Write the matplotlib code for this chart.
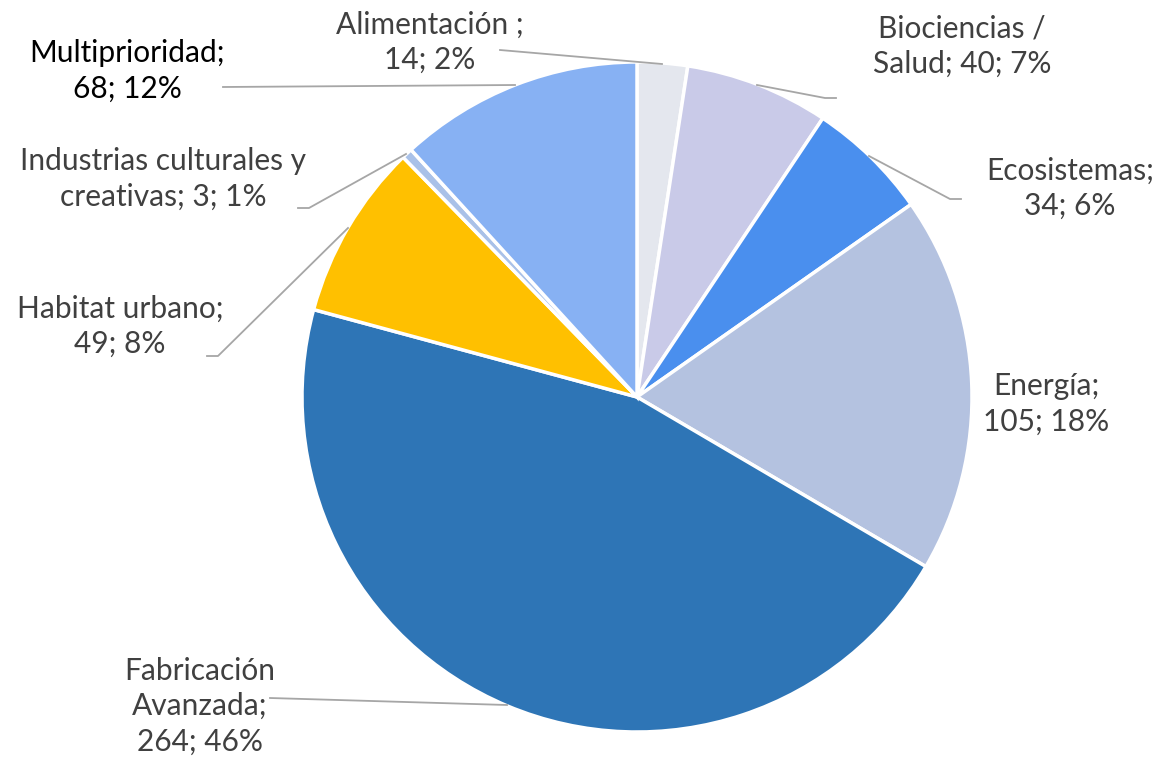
import matplotlib.pyplot as plt

categorias = ["Alimentación ;\n", "Biociencias /\nSalud; ", "Ecosistemas;\n", "Energía;\n",
              "Fabricación\nAvanzada;\n", "Habitat urbano;\n", "Industrias culturales y\ncreativas; ",
              "Multiprioridad;\n"]
valores = [14, 40, 34, 105, 264, 49, 3, 68]
porcentajes = ["2%", "7%", "6%", "18%", "46%", "8%", "1%", "12%"]
colores = ["#E4E7EE", "#C9CAE8", "#4A8FEE", "#B4C2E0", "#2E75B6", "#FFC000", "#A9C1E8", "#87B1F3"]

etiquetas = [f"{c}{v}; {p}" for c, v, p in zip(categorias, valores, porcentajes)]

W, H = 1156, 760
fig = plt.figure(figsize=(W / 100, H / 100), dpi=100)
ax = fig.add_axes([0, 0, 1, 1])

cx, cy, r = 637, H - 397, 335
ax.pie(valores, colors=colores, startangle=90, counterclock=False, center=(cx, cy), radius=r,
       wedgeprops=dict(edgecolor="white", linewidth=2.5), frame=True)

# posiciones de las etiquetas (pixeles)
pos_texto = [(430, 42), (962, 46), (1070, 188), (1046, 404), (200, 706), (120, 326), (163, 179), (127, 71)]
lineas = [
    [(500, 50), (662, 64)],
    [(757, 85), (825, 98), (836, 98)],
    [(869, 156), (950, 199), (961, 199)],
    None,
    [(270, 698), (507, 705)],
    [(348, 228), (218, 356), (207, 356)],
    [(406, 154), (309, 208), (298, 208)],
    [(223, 87), (515, 85)],
]

for i, texto in enumerate(etiquetas):
    x, y = pos_texto[i]
    color = "black" if i == 7 else "#404040"
    ax.text(x, H - y, texto, ha="center", va="center", fontsize=21.5, color=color,
            family="Lato", linespacing=1.32)
    if lineas[i] is not None:
        xs = [p[0] for p in lineas[i]]
        ys = [H - p[1] for p in lineas[i]]
        ax.plot(xs, ys, color="#A6A6A6", linewidth=1.3)

ax.set_xlim(0, W)
ax.set_ylim(0, H)
ax.set_aspect("equal")
ax.axis("off")
fig.savefig("out.png", dpi=100)
